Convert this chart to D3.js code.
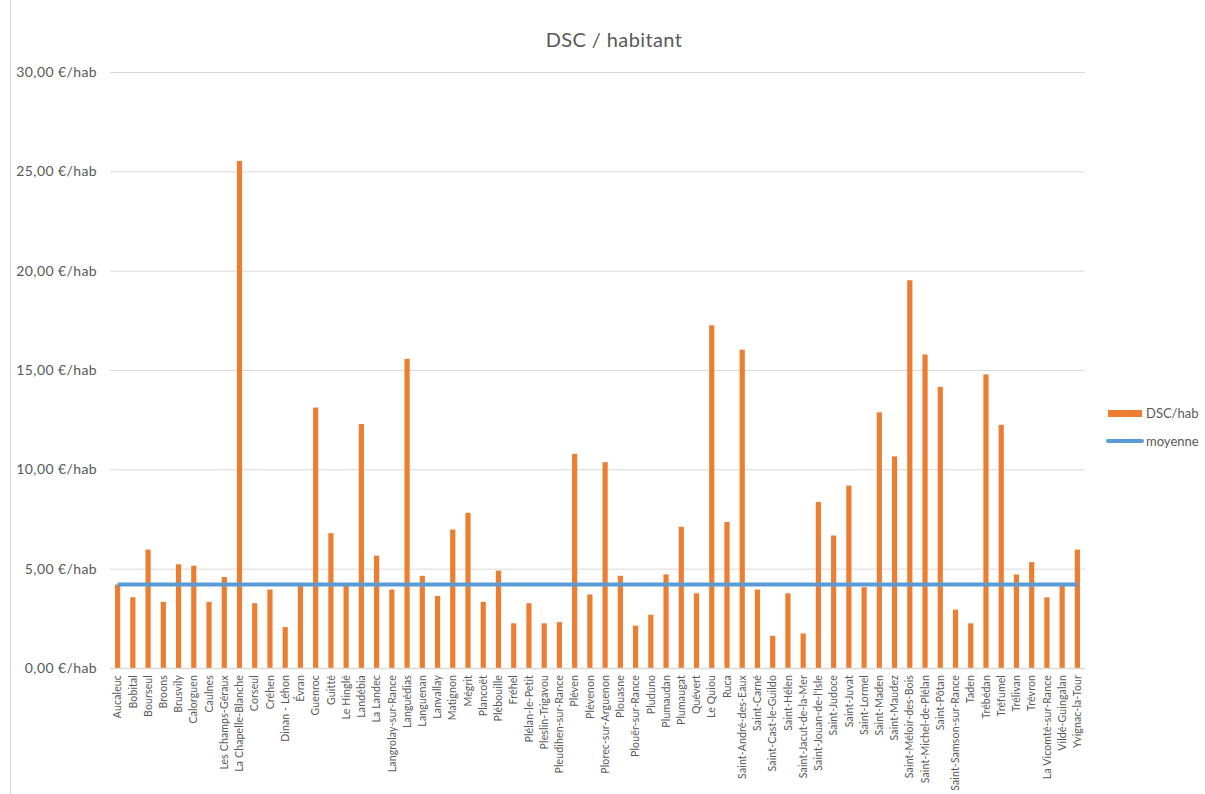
<!DOCTYPE html>
<html><head><meta charset="utf-8">
<script src="https://cdn.jsdelivr.net/npm/d3@7"></script>
<style>
html,body{margin:0;padding:0;background:#fff;}
svg{display:block;font-family:Lato,"Open Sans",sans-serif;}
</style></head>
<body>
<svg id="chart" width="1205" height="794"></svg>
<script>
const communes = ["Aucaleuc","Bobital","Bourseul","Broons","Brusvily","Calorguen","Caulnes","Les Champs-Géraux","La Chapelle-Blanche","Corseul","Créhen","Dinan - Léhon","Évran","Guenroc","Guitté","Le Hinglé","Landébia","La Landec","Langrolay-sur-Rance","Languédias","Languenan","Lanvallay","Matignon","Mégrit","Plancoët","Plébouille","Fréhel","Plélan-le-Petit","Pleslin-Trigavou","Pleudihen-sur-Rance","Pléven","Plévenon","Plorec-sur-Arguenon","Plouasne","Plouër-sur-Rance","Pluduno","Plumaudan","Plumaugat","Quévert","Le Quiou","Ruca","Saint-André-des-Eaux","Saint-Carné","Saint-Cast-le-Guildo","Saint-Hélen","Saint-Jacut-de-la-Mer","Saint-Jouan-de-l'Isle","Saint-Judoce","Saint-Juvat","Saint-Lormel","Saint-Maden","Saint-Maudez","Saint-Méloir-des-Bois","Saint-Michel-de-Plélan","Saint-Pôtan","Saint-Samson-sur-Rance","Taden","Trébédan","Tréfumel","Trélivan","Trévron","La Vicomté-sur-Rance","Vildé-Guingalan","Yvignac-la-Tour"];
const dscHab = [4.2,3.56,5.96,3.33,5.22,5.15,3.33,4.58,25.52,3.26,3.95,2.06,4.14,13.11,6.79,4.14,12.28,5.66,3.95,15.56,4.64,3.63,6.97,7.81,3.33,4.9,2.25,3.26,2.25,2.31,10.78,3.7,10.36,4.64,2.13,2.68,4.71,7.11,3.76,17.25,7.35,16.02,3.95,1.62,3.76,1.74,8.36,6.67,9.18,4.07,12.87,10.65,19.52,15.78,14.15,2.94,2.25,14.78,12.24,4.71,5.33,3.56,4.14,5.96];
const moyenne = 4.2;
const yTicks = [0,5,10,15,20,25,30];
const seriesNames = ["DSC/hab","moyenne"];

const svg = d3.select("#chart");
const M = {left:110, right:1085, top:72, bottom:668};
const x = d3.scaleBand().domain(communes).range([M.left, M.right]).paddingInner(0.66).paddingOuter(0.33);
const y = d3.scaleLinear().domain([0,30]).range([M.bottom, M.top]);
const fmt = v => d3.format(".2f")(v).replace(".", ",") + " €/hab";

// chart border
svg.append("rect").attr("x",10.5).attr("y",-1).attr("width",1205).attr("height",796)
  .attr("fill","none").attr("stroke","#d9d9d9");

// title
svg.append("text").attr("x",614).attr("y",47).attr("text-anchor","middle")
  .attr("font-size",20).attr("letter-spacing",0.4).attr("fill","#595959").text("DSC / habitant");

// gridlines + y labels
const yAxis = d3.axisLeft(y).tickValues(yTicks).tickFormat(fmt).tickSize(-(M.right-M.left)).tickPadding(13);
const gy = svg.append("g").attr("transform",`translate(${M.left},0)`).call(yAxis);
gy.select(".domain").remove();
gy.selectAll(".tick line").attr("stroke","#d9d9d9").attr("stroke-width",1);
gy.selectAll(".tick text").attr("font-size",14).attr("letter-spacing",0.4).attr("fill","#595959").attr("font-family","Lato,'Open Sans',sans-serif");

// bars
svg.append("g").selectAll("rect").data(communes).join("rect")
  .attr("x", d => x(d))
  .attr("width", x.bandwidth())
  .attr("y", (d,i) => y(dscHab[i]))
  .attr("height", (d,i) => y(0) - y(dscHab[i]))
  .attr("fill","#ED7D31");

// baseline
svg.append("line").attr("x1",M.left).attr("x2",M.right).attr("y1",y(0)+0.5).attr("y2",y(0)+0.5)
  .attr("stroke","#d9d9d9").attr("stroke-width",1.5);

// average line
const line = d3.line().x(d => x(d) + x.bandwidth()/2).y(() => y(moyenne));
svg.append("path").datum(communes).attr("d", line)
  .attr("fill","none").attr("stroke","#5B9BD5").attr("stroke-width",4);

// x labels
const xAxis = d3.axisBottom(x).tickSize(0).tickPadding(0);
const gx = svg.append("g").attr("transform",`translate(0,${M.bottom})`).call(xAxis);
gx.select(".domain").remove();
gx.selectAll(".tick text")
  .attr("transform","rotate(-90)")
  .attr("text-anchor","end")
  .attr("x",-7).attr("y",0).attr("dy","0.35em")
  .attr("font-size",10.5).attr("letter-spacing",0.15).attr("fill","#595959")
  .attr("font-family","Lato,'Open Sans',sans-serif");

// legend
const lg = svg.append("g");
lg.append("rect").attr("x",1108).attr("y",410).attr("width",34).attr("height",7).attr("fill","#ED7D31");
lg.append("text").attr("x",1146).attr("y",418).attr("font-size",13).attr("fill","#595959").text(seriesNames[0]);
lg.append("line").attr("x1",1108).attr("x2",1142).attr("y1",441).attr("y2",441)
  .attr("stroke","#5B9BD5").attr("stroke-width",4).attr("stroke-linecap","round");
lg.append("text").attr("x",1146).attr("y",446).attr("font-size",13).attr("fill","#595959").text(seriesNames[1]);
</script>
</body></html>
